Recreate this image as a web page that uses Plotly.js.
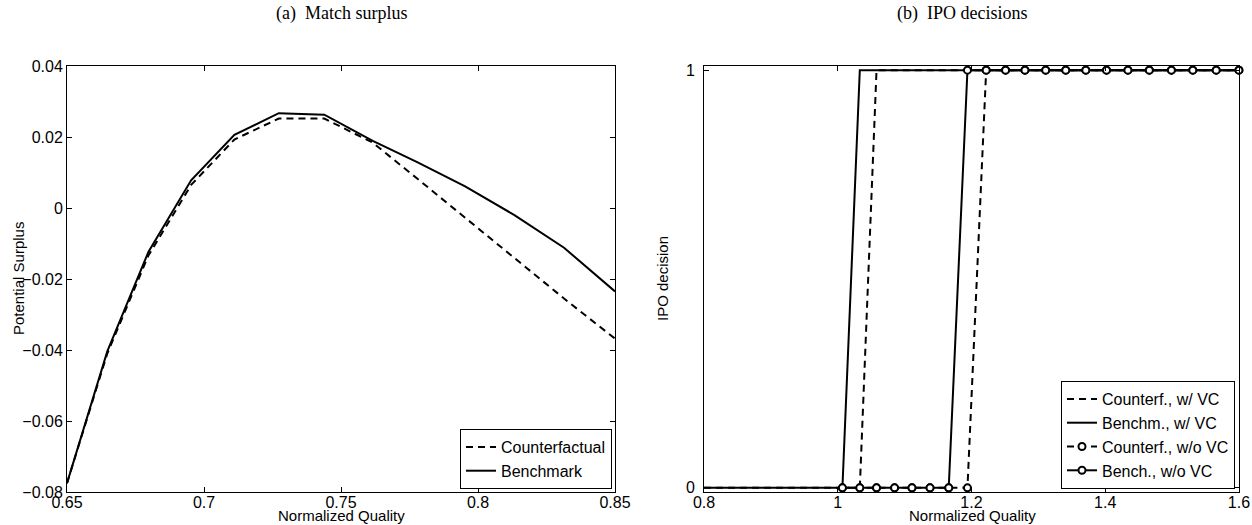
<!DOCTYPE html>
<html>
<head>
<meta charset="utf-8">
<script src="https://cdn.plot.ly/plotly-3.0.1.min.js"></script>
<style>html,body{margin:0;padding:0;background:#fff;} #chart{width:1252px;height:525px;}</style>
</head>
<body>
<div id="chart"></div>
<script>
// ---- Panel (a): Match surplus ----
var surplusX = [0.65, 0.6647, 0.6797, 0.6953, 0.7111, 0.7273, 0.7439, 0.7616, 0.7778, 0.7953, 0.8133, 0.8314, 0.85];
var benchmarkY = [-0.0775, -0.0404, -0.0124, 0.0078, 0.0206, 0.0267, 0.0263, 0.0189, 0.0129, 0.0061, -0.0020, -0.0112, -0.0235];
var counterfactualY = [-0.0775, -0.0410, -0.0134, 0.0065, 0.0193, 0.0252, 0.0252, 0.0184, 0.0083, -0.0028, -0.0142, -0.0255, -0.0368];
var surplusXTicks = [0.65, 0.7, 0.75, 0.8, 0.85];
var surplusXTickText = ["0.65", "0.7", "0.75", "0.8", "0.85"];
var surplusYTicks = [-0.08, -0.06, -0.04, -0.02, 0, 0.02, 0.04];
var surplusYTickText = ["\u22120.08", "\u22120.06", "\u22120.04", "\u22120.02", "0", "0.02", "0.04"];

// ---- Panel (b): IPO decisions ----
var benchVCX = [0.8, 1.007, 1.033, 1.6];
var benchVCY = [0, 0, 1, 1];
var counterVCX = [0.8, 1.033, 1.058, 1.6];
var counterVCY = [0, 0, 1, 1];
var noVCX = [1.007, 1.033, 1.058, 1.085, 1.111, 1.138, 1.166, 1.194, 1.222, 1.251, 1.280, 1.311, 1.341, 1.371, 1.402, 1.434, 1.466, 1.499, 1.531, 1.566, 1.600];
var benchNoVCY = [0, 0, 0, 0, 0, 0, 0, 1, 1, 1, 1, 1, 1, 1, 1, 1, 1, 1, 1, 1, 1];
var counterNoVCY = [0, 0, 0, 0, 0, 0, 0, 0, 1, 1, 1, 1, 1, 1, 1, 1, 1, 1, 1, 1, 1];
var ipoXTicks = [0.8, 1, 1.2, 1.4, 1.6];
var ipoXTickText = ["0.8", "1", "1.2", "1.4", "1.6"];
var ipoYTicks = [0, 1];
var ipoYTickText = ["0", "1"];

var W = 1252, H = 525;
function fx(p) { return p / W; }
function fy(p) { return 1 - p / H; }

var sans = "Liberation Sans, Arial, sans-serif";
var serif = "Liberation Serif, DejaVu Serif, serif";
var dashPat = "7px,5px";
var black = "#000";
var fs = 16;

var traces = [
  {x: surplusX, y: counterfactualY, type: "scatter", mode: "lines", name: "Counterfactual",
   line: {color: black, width: 2, dash: dashPat}, xaxis: "x", yaxis: "y", legend: "legend"},
  {x: surplusX, y: benchmarkY, type: "scatter", mode: "lines", name: "Benchmark",
   line: {color: black, width: 2}, xaxis: "x", yaxis: "y", legend: "legend"},
  {x: counterVCX, y: counterVCY, type: "scatter", mode: "lines", name: "Counterf., w/ VC",
   line: {color: black, width: 2, dash: dashPat}, xaxis: "x2", yaxis: "y2", legend: "legend2"},
  {x: benchVCX, y: benchVCY, type: "scatter", mode: "lines", name: "Benchm., w/ VC",
   line: {color: black, width: 2}, xaxis: "x2", yaxis: "y2", legend: "legend2"},
  {x: noVCX, y: counterNoVCY, type: "scatter", mode: "lines+markers", name: "Counterf., w/o VC",
   line: {color: black, width: 2, dash: dashPat},
   marker: {symbol: "circle", size: 7, color: "#fff", line: {color: black, width: 2}},
   cliponaxis: false, xaxis: "x2", yaxis: "y2", legend: "legend2"},
  {x: noVCX, y: benchNoVCY, type: "scatter", mode: "lines+markers", name: "Bench., w/o VC",
   line: {color: black, width: 2},
   marker: {symbol: "circle", size: 7, color: "#fff", line: {color: black, width: 2}},
   cliponaxis: false, xaxis: "x2", yaxis: "y2", legend: "legend2"}
];

var axBase = {
  showline: true, linecolor: black, linewidth: 1, mirror: "ticks",
  ticks: "inside", ticklen: 5, tickwidth: 1, tickcolor: black,
  showgrid: false, zeroline: false, tickmode: "array", ticklabeloverflow: "allow",
  tickfont: {family: sans, size: fs, color: black}
};
function ax(extra) { return Object.assign({}, axBase, extra); }

var legendBase = {
  bgcolor: "#fff", bordercolor: black, borderwidth: 1,
  font: {family: sans, size: 16, color: black},
  xanchor: "right", yanchor: "bottom", tracegroupgap: 0, itemwidth: 30
};

function label(text, x, y, angle) {
  return {text: text, xref: "paper", yref: "paper", x: fx(x), y: fy(y),
    xanchor: "center", yanchor: "middle", showarrow: false, textangle: angle || 0,
    font: {family: sans, size: 15, color: black}};
}

var frameTop = 66, frameBottom = 492;

var layout = {
  width: W, height: H,
  margin: {l: 0, r: 0, t: 0, b: 0},
  paper_bgcolor: "#fff", plot_bgcolor: "#fff",
  font: {family: sans, size: fs, color: black},
  xaxis: ax({domain: [fx(67), fx(615)], range: [0.65, 0.85], anchor: "y",
    tickvals: surplusXTicks, ticktext: surplusXTickText, ticklabelstandoff: -4}),
  yaxis: ax({domain: [fy(frameBottom), fy(frameTop)], range: [-0.08, 0.04], anchor: "x",
    tickvals: surplusYTicks, ticktext: surplusYTickText}),
  xaxis2: ax({domain: [fx(704), fx(1239)], range: [0.8, 1.6001], anchor: "y2",
    tickvals: ipoXTicks, ticktext: ipoXTickText, ticklabelstandoff: -4}),
  yaxis2: ax({domain: [fy(frameBottom), fy(frameTop)], range: [-0.01, 1.01], anchor: "x2",
    tickvals: ipoYTicks, ticktext: ipoYTickText, ticklabelstandoff: 5}),
  legend: Object.assign({}, legendBase, {x: fx(612), y: fy(489)}),
  legend2: Object.assign({}, legendBase, {x: fx(1235), y: fy(489)}),
  annotations: [
    {text: "(a)  Match surplus", xref: "paper", yref: "paper", x: fx(341), y: fy(14),
     xanchor: "center", yanchor: "middle", showarrow: false,
     font: {family: serif, size: 18, color: black}},
    {text: "(b)  IPO decisions", xref: "paper", yref: "paper", x: fx(962), y: fy(14),
     xanchor: "center", yanchor: "middle", showarrow: false,
     font: {family: serif, size: 18, color: black}},
    label("Normalized Quality", 341, 515),
    label("Normalized Quality", 972, 515),
    label("Potential Surplus", 18, 279, -90),
    label("IPO decision", 662, 279, -90)
  ],
  showlegend: true
};

Plotly.newPlot("chart", traces, layout, {staticPlot: true, displayModeBar: false});
</script>
</body>
</html>
